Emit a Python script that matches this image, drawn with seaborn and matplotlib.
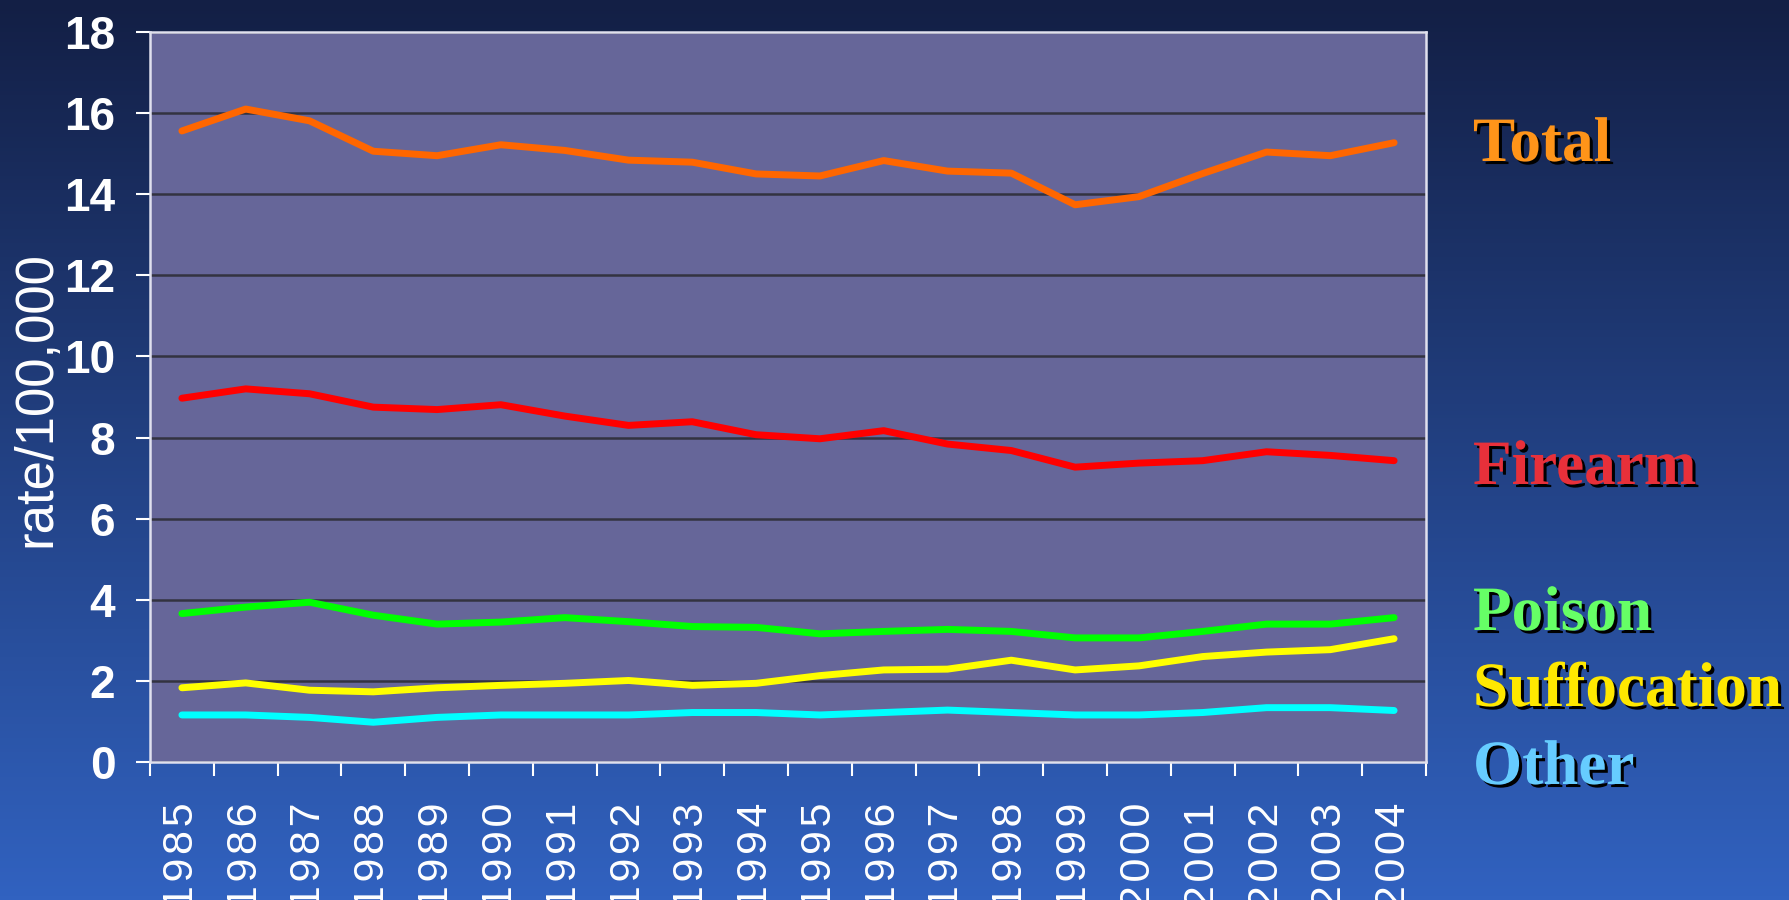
import numpy as np
import pandas as pd
import matplotlib
matplotlib.use("Agg")
import matplotlib.pyplot as plt
import matplotlib.patheffects as pe
import seaborn as sns

# --- data ---
years = list(range(1985, 2005))
total = [15.56, 16.10, 15.81, 15.06, 14.95, 15.22, 15.08, 14.84, 14.79, 14.50,
         14.45, 14.83, 14.57, 14.52, 13.74, 13.94, 14.51, 15.04, 14.95, 15.27]
firearm = [8.97, 9.20, 9.08, 8.75, 8.69, 8.81, 8.53, 8.30, 8.39, 8.07,
           7.97, 8.17, 7.84, 7.68, 7.27, 7.37, 7.43, 7.65, 7.56, 7.43]
poison = [3.66, 3.82, 3.94, 3.62, 3.40, 3.45, 3.56, 3.46, 3.34, 3.32,
          3.16, 3.22, 3.27, 3.22, 3.06, 3.06, 3.22, 3.40, 3.40, 3.56]
suffocation = [1.83, 1.95, 1.77, 1.73, 1.83, 1.89, 1.94, 2.01, 1.89, 1.94,
               2.13, 2.27, 2.29, 2.51, 2.27, 2.37, 2.60, 2.71, 2.77, 3.04]
other = [1.16, 1.16, 1.10, 0.98, 1.10, 1.16, 1.16, 1.16, 1.22, 1.22,
         1.16, 1.22, 1.28, 1.22, 1.16, 1.16, 1.22, 1.34, 1.34, 1.27]
causes = ["Total", "Firearm", "Poison", "Suffocation", "Other"]
y_ticks = list(range(0, 19, 2))

line_colors = {"Total": "#FF6600", "Firearm": "#FF0000", "Poison": "#00FF00",
               "Suffocation": "#FFFF00", "Other": "#00FFFF"}
label_colors = {"Total": "#FF9419", "Firearm": "#E8303A", "Poison": "#66FF66",
                "Suffocation": "#FFE800", "Other": "#66CCFF"}

df = pd.DataFrame({"Year": years, "Total": total, "Firearm": firearm,
                   "Poison": poison, "Suffocation": suffocation, "Other": other})
long = df.melt(id_vars="Year", var_name="Cause", value_name="Rate")

# --- figure with gradient background ---
fig = plt.figure(figsize=(17.89, 9), dpi=100)
bg = fig.add_axes([0, 0, 1, 1], zorder=-10)
top_c = np.array([19, 31, 69]) / 255
bot_c = np.array([49, 98, 192]) / 255
t = np.linspace(0, 1, 256)[:, None]
grad = top_c[None, :] * (1 - t) + bot_c[None, :] * t
bg.imshow(grad[:, None, :], aspect="auto", extent=[0, 1, 0, 1])
bg.axis("off")

ax = fig.add_axes([150 / 1789, 138 / 900, 1276 / 1789, 730 / 900])
ax.set_facecolor("#666699")

sns.lineplot(data=long, x="Year", y="Rate", hue="Cause", hue_order=causes,
             palette=line_colors, linewidth=5, legend=False, ax=ax,
             solid_capstyle="round", zorder=3)

ax.set_xlim(1984.5, 2004.5)
ax.set_ylim(0, 18)
ax.set_yticks(y_ticks)
ax.set_yticklabels([str(v) for v in y_ticks], color="white", fontsize=33,
                   fontweight="bold",
                   family=["Liberation Sans Narrow", "Liberation Sans", "DejaVu Sans"])
ax.set_xticks(years)
# the slide uses letter-spaced year labels; a hair space approximates that
ax.set_xticklabels(["\u200a".join(str(y)) for y in years], rotation=90, color="white",
                   fontsize=31, family=["Liberation Sans", "DejaVu Sans"])
ax.set_xticks([y - 0.5 for y in years] + [2004.5], minor=True)
ax.tick_params(axis="x", which="major", length=0, pad=29)
ax.tick_params(axis="x", which="minor", length=10, width=1.5, color="white",
               direction="out")
ax.tick_params(axis="y", length=10, width=1.5, color="white", direction="out", pad=15)

ax.grid(axis="y", color="#333340", linewidth=1.8)
ax.grid(axis="x", visible=False)
ax.set_axisbelow(True)
for s in ax.spines.values():
    s.set_color("#E0E0EE")
    s.set_linewidth(1.8)
ax.set_xlabel("")
ax.set_ylabel("")

fig.text(36 / 1789, 1 - 399 / 900, "rate/100,000", rotation=90, color="white",
         fontsize=38, ha="center", va="center",
         family=["Liberation Sans", "DejaVu Sans"])

# --- direct labels ---
baselines = {"Total": 161, "Firearm": 484, "Poison": 630, "Suffocation": 706, "Other": 784}
for c in causes:
    fig.text(1473 / 1789, 1 - baselines[c] / 900, c, color=label_colors[c],
             fontsize=45.5, fontweight="bold", va="baseline", ha="left",
             family=["Liberation Serif", "DejaVu Serif"],
             path_effects=[pe.withSimplePatchShadow(offset=(2.2, -2.2),
                                                    shadow_rgbFace="black", alpha=1.0)])

fig.savefig("out.png", dpi=100)
